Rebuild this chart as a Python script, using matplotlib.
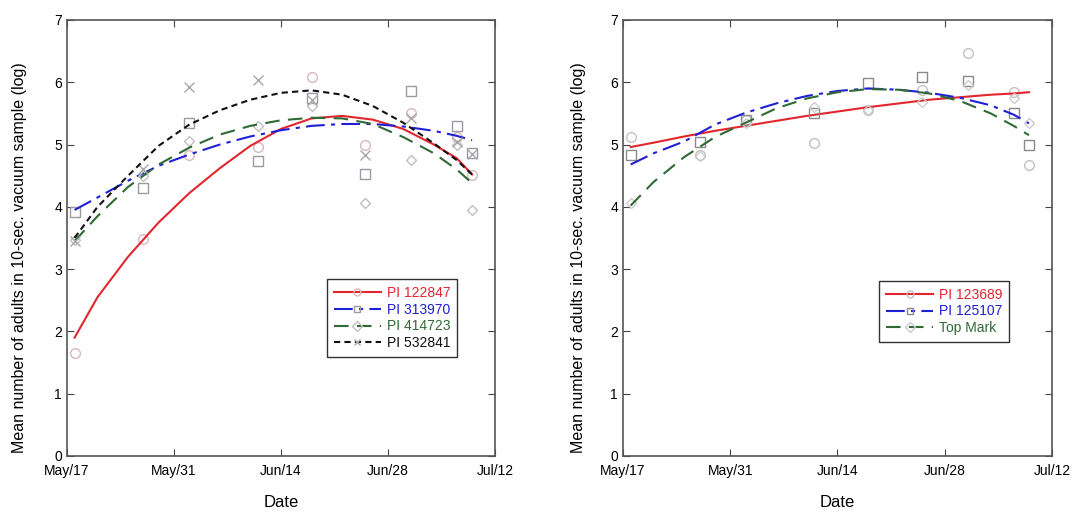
import datetime as dt
import matplotlib
matplotlib.use('Agg')
import matplotlib.pyplot as plt
import matplotlib.dates as mdates

plt.rcParams['font.family'] = ['Liberation Sans', 'DejaVu Sans']

# sampling dates (days after May 17)
start = dt.date(2010, 5, 17)
sample_days = [1, 10, 16, 25, 32, 39, 45, 51, 53]
curve_days = [1, 4, 8, 12, 16, 20, 24, 28, 32, 36, 40, 44, 48, 51, 53]

# left panel observations
obs_122847 = [1.65, 3.48, 4.83, 4.96, 6.08, 4.99, 5.50, 5.12, 4.51]
obs_313970 = [3.92, 4.30, 5.34, 4.73, 5.75, 4.53, 5.86, 5.30, 4.86]
obs_414723 = [3.47, 4.50, 5.05, 5.30, 5.62, 4.06, 4.75, 5.00, 3.95]
obs_532841 = [3.45, 4.60, 5.92, 6.04, 5.71, 4.83, 5.42, 5.04, 4.85]

# left panel fitted curves
fit_122847 = [1.90, 2.55, 3.20, 3.75, 4.22, 4.62, 4.98, 5.25, 5.42, 5.46, 5.40, 5.25, 5.00, 4.78, 4.52]
fit_313970 = [3.95, 4.15, 4.42, 4.66, 4.84, 5.00, 5.13, 5.23, 5.30, 5.33, 5.33, 5.29, 5.22, 5.14, 5.07]
fit_414723 = [3.45, 3.85, 4.32, 4.68, 4.95, 5.16, 5.30, 5.39, 5.43, 5.42, 5.33, 5.12, 4.86, 4.60, 4.38]
fit_532841 = [3.50, 4.00, 4.50, 4.98, 5.32, 5.55, 5.72, 5.83, 5.87, 5.80, 5.62, 5.35, 5.02, 4.75, 4.52]

# right panel observations
obs_123689 = [5.12, 4.83, 5.39, 5.02, 5.55, 5.87, 6.47, 5.84, 4.67]
obs_125107 = [4.83, 5.04, 5.39, 5.50, 5.99, 6.09, 6.02, 5.50, 5.00]
obs_topmark = [4.06, 4.82, 5.35, 5.60, 5.55, 5.68, 5.95, 5.75, 5.34]

# right panel fitted curves
fit_123689 = [4.96, 5.03, 5.13, 5.22, 5.30, 5.38, 5.46, 5.53, 5.60, 5.66, 5.72, 5.76, 5.80, 5.82, 5.84]
fit_125107 = [4.68, 4.86, 5.05, 5.32, 5.51, 5.66, 5.78, 5.86, 5.90, 5.88, 5.83, 5.75, 5.63, 5.48, 5.34]
fit_topmark = [4.02, 4.40, 4.80, 5.12, 5.35, 5.58, 5.74, 5.84, 5.89, 5.88, 5.82, 5.70, 5.50, 5.30, 5.15]

tick_days = [0, 14, 28, 42, 56]

RED = '#e3262e'
BLUE = '#1f1fd6'
GREEN = '#2f6a35'
BLACK = '#111111'

def todates(days):
    return [start + dt.timedelta(days=d) for d in days]

left_series = [
    ('PI 122847', obs_122847, fit_122847, RED, '-', 'o', '#d8b8bc'),
    ('PI 313970', obs_313970, fit_313970, BLUE, (0, (9, 3, 2, 3)), 's', '#9a9aa6'),
    ('PI 414723', obs_414723, fit_414723, GREEN, (0, (7, 4)), 'D', '#c0c0c0'),
    ('PI 532841', obs_532841, fit_532841, BLACK, (0, (3, 2)), 'x', '#a8a8a8'),
]
right_series = [
    ('PI 123689', obs_123689, fit_123689, RED, '-', 'o', '#c8c0c0'),
    ('PI 125107', obs_125107, fit_125107, BLUE, (0, (9, 3, 2, 3)), 's', '#8a8a8a'),
    ('Top Mark', obs_topmark, fit_topmark, GREEN, (0, (7, 4)), 'D', '#cccccc'),
]

fig = plt.figure(figsize=(10.73, 5.16), dpi=100)
ax1 = fig.add_axes([0.0624, 0.1163, 0.3989, 0.845])
ax2 = fig.add_axes([0.5806, 0.1163, 0.3998, 0.845])

for ax, series, lx in [(ax1, left_series, 0.027), (ax2, right_series, 0.548)]:
    handles = []
    for name, obs, fit, col, ls, mk, mcol in series:
        ax.plot(todates(sample_days), obs, linestyle='none', marker=mk,
                markersize=7 if mk != 'D' else 5.5, markerfacecolor='none',
                markeredgecolor=mcol, markeredgewidth=1.0)
        h, = ax.plot(todates(curve_days), fit, color=col, linestyle=ls, linewidth=1.5,
                     marker=mk, markevery=[], markersize=5, markerfacecolor='none',
                     markeredgecolor=mcol)
        handles.append(h)
    ax.set_xlim(start, start + dt.timedelta(days=56))
    ax.set_ylim(0, 7)
    ax.set_xticks(todates(tick_days))
    ax.xaxis.set_major_formatter(mdates.DateFormatter('%b/%d'))
    ax.set_yticks(range(0, 8))
    ax.tick_params(direction='in', top=True, right=True, length=5, labelsize=10,
                   color='#444444')
    ax.tick_params(axis='x', pad=6)
    for s in ax.spines.values():
        s.set_color('#555555')
        s.set_linewidth(1.2)
    ax.set_xlabel('Date', fontsize=12, labelpad=12)
    fig.text(lx - 0.009, 0.5,
             'Mean number of adults in 10-sec. vacuum sample (log)',
             rotation=90, ha='center', va='center', fontsize=11.5)
    leg = ax.legend(handles=handles, labels=[s[0] for s in series],
                    loc='upper left', fontsize=10, frameon=True, fancybox=False,
                    handlelength=3.4, handletextpad=0.4, labelspacing=0.2,
                    borderpad=0.5)
    leg.get_frame().set_edgecolor('black')
    leg.get_frame().set_linewidth(1.0)
    for txt, s in zip(leg.get_texts(), series):
        txt.set_color(s[3])

ax1.legend_.set_bbox_to_anchor((0.591, 0.422), transform=ax1.transAxes)
ax2.legend_.set_bbox_to_anchor((0.581, 0.418), transform=ax2.transAxes)

fig.savefig('out.png', dpi=100)
